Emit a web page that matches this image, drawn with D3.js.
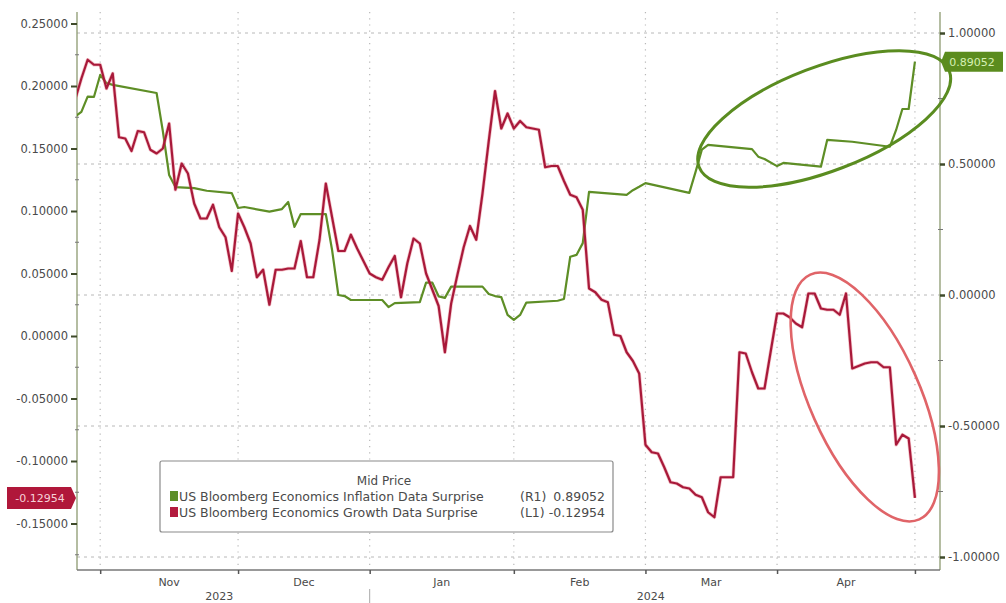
<!DOCTYPE html>
<html><head><meta charset="utf-8">
<script src="https://cdn.jsdelivr.net/npm/d3@7"></script>
<style>body{margin:0;background:#fff}svg{display:block}text{font-family:"DejaVu Sans",sans-serif}</style>
</head><body><svg id="c" width="1006" height="603"></svg>
<script>
// ---------------- data ----------------
const growthDates = ["2023-10-26","2023-10-27","2023-10-30","2023-10-31","2023-11-01","2023-11-02","2023-11-03","2023-11-06","2023-11-07","2023-11-08","2023-11-09","2023-11-10","2023-11-13","2023-11-14","2023-11-15","2023-11-16","2023-11-17","2023-11-20","2023-11-21","2023-11-22","2023-11-23","2023-11-24","2023-11-27","2023-11-28","2023-11-29","2023-11-30","2023-12-01","2023-12-04","2023-12-05","2023-12-06","2023-12-07","2023-12-08","2023-12-11","2023-12-12","2023-12-13","2023-12-14","2023-12-15","2023-12-18","2023-12-19","2023-12-20","2023-12-21","2023-12-22","2023-12-25","2023-12-26","2023-12-27","2023-12-28","2023-12-29","2024-01-01","2024-01-02","2024-01-03","2024-01-04","2024-01-05","2024-01-08","2024-01-09","2024-01-10","2024-01-11","2024-01-12","2024-01-15","2024-01-16","2024-01-17","2024-01-18","2024-01-19","2024-01-22","2024-01-23","2024-01-24","2024-01-25","2024-01-26","2024-01-29","2024-01-30","2024-01-31","2024-02-01","2024-02-02","2024-02-05","2024-02-06","2024-02-07","2024-02-08","2024-02-09","2024-02-12","2024-02-13","2024-02-14","2024-02-15","2024-02-16","2024-02-19","2024-02-20","2024-02-21","2024-02-22","2024-02-23","2024-02-26","2024-02-27","2024-02-28","2024-02-29","2024-03-01","2024-03-04","2024-03-05","2024-03-06","2024-03-07","2024-03-08","2024-03-11","2024-03-12","2024-03-13","2024-03-14","2024-03-15","2024-03-18","2024-03-19","2024-03-20","2024-03-21","2024-03-22","2024-03-25","2024-03-26","2024-03-27","2024-03-28","2024-04-01","2024-04-02","2024-04-03","2024-04-04","2024-04-05","2024-04-08","2024-04-09","2024-04-10","2024-04-11","2024-04-12","2024-04-15","2024-04-16","2024-04-17","2024-04-18","2024-04-19","2024-04-22","2024-04-23","2024-04-24","2024-04-25","2024-04-26","2024-04-29","2024-04-30","2024-05-01"];
const growthValues = [0.189,0.206,0.221,0.217,0.217,0.198,0.210,0.159,0.158,0.148,0.164,0.163,0.149,0.146,0.150,0.170,0.117,0.138,0.130,0.106,0.094,0.094,0.105,0.087,0.079,0.052,0.098,0.087,0.074,0.047,0.053,0.025,0.053,0.053,0.054,0.054,0.076,0.047,0.047,0.077,0.122,0.095,0.068,0.068,0.081,0.070,0.060,0.050,0.047,0.045,0.055,0.064,0.031,0.058,0.078,0.074,0.050,0.037,0.024,-0.013,0.026,0.049,0.071,0.088,0.077,0.114,0.156,0.196,0.166,0.178,0.166,0.172,0.167,0.166,0.165,0.135,0.136,0.136,0.124,0.113,0.111,0.101,0.038,0.035,0.029,0.027,0.001,0.000,-0.013,-0.020,-0.030,-0.087,-0.093,-0.094,-0.105,-0.117,-0.118,-0.121,-0.122,-0.127,-0.129,-0.141,-0.145,-0.113,-0.113,-0.113,-0.013,-0.014,-0.029,-0.042,-0.042,0.018,0.018,0.015,0.010,0.007,0.034,0.034,0.022,0.021,0.021,0.017,0.034,-0.026,-0.024,-0.022,-0.021,-0.021,-0.025,-0.025,-0.087,-0.079,-0.082,-0.12954];

const inflationDates = ["2023-10-26","2023-10-27","2023-10-30","2023-10-31","2023-11-01","2023-11-02","2023-11-03","2023-11-14","2023-11-15","2023-11-16","2023-11-17","2023-11-22","2023-11-24","2023-11-30","2023-12-01","2023-12-04","2023-12-08","2023-12-12","2023-12-13","2023-12-14","2023-12-15","2023-12-21","2023-12-22","2023-12-25","2023-12-26","2023-12-27","2024-01-03","2024-01-04","2024-01-05","2024-01-11","2024-01-12","2024-01-15","2024-01-16","2024-01-17","2024-01-18","2024-01-25","2024-01-26","2024-01-29","2024-01-30","2024-01-31","2024-02-01","2024-02-02","2024-02-05","2024-02-12","2024-02-13","2024-02-14","2024-02-15","2024-02-16","2024-02-19","2024-02-27","2024-02-28","2024-02-29","2024-03-01","2024-03-12","2024-03-13","2024-03-14","2024-03-15","2024-03-26","2024-03-27","2024-03-28","2024-04-01","2024-04-02","2024-04-10","2024-04-11","2024-04-17","2024-04-25","2024-04-26","2024-04-29","2024-04-30","2024-05-01"];
const inflationValues = [0.681,0.699,0.757,0.756,0.840,0.809,0.802,0.771,0.625,0.458,0.412,0.408,0.398,0.389,0.332,0.336,0.318,0.328,0.355,0.260,0.309,0.309,0.172,0.000,-0.004,-0.019,-0.019,-0.046,-0.031,-0.027,0.047,0.047,-0.005,-0.011,0.032,0.032,0.004,-0.004,-0.008,-0.076,-0.095,-0.076,-0.029,-0.022,-0.015,0.146,0.153,0.198,0.394,0.382,0.400,0.413,0.427,0.390,0.470,0.555,0.573,0.557,0.528,0.519,0.492,0.504,0.490,0.592,0.585,0.566,0.630,0.710,0.710,0.89052];

const leftTicks = [0.25,0.20,0.15,0.10,0.05,0.00,-0.05,-0.10,-0.15];
const leftMinor = [0.225,0.175,0.125,0.075,0.025,-0.025,-0.075,-0.125,-0.175];
const rightTicks = [1.0,0.5,0.0,-0.5,-1.0];
const rightMinor = [0.75,0.25,-0.25,-0.75];
const monthStarts = ["2023-11-01","2023-12-01","2024-01-01","2024-02-01","2024-03-01","2024-04-01","2024-05-01"];
const monthLabels = ["Nov","Dec","Jan","Feb","Mar","Apr"];
const yearLabels = [{label:"2023", from:"2023-10-26", to:"2024-01-01"},{label:"2024", from:"2024-01-01", to:"2024-05-08"}];
const legendTitle = "Mid Price";
const seriesNames = ["US Bloomberg Economics Inflation Data Surprise","US Bloomberg Economics Growth Data Surprise"];
const seriesAxes = ["(R1)","(L1)"];
const lastValues = ["0.89052","-0.12954"];

// ---------------- setup ----------------
const parse = d3.timeParse("%Y-%m-%d");
const origin = parse("2023-11-01");
const isWd = d => d.getDay() !== 0 && d.getDay() !== 6;
function biz(s){
  const d = parse(s);
  if (d >= origin) return d3.timeDay.range(origin, d).filter(isWd).length;
  return -d3.timeDay.range(d, origin).filter(isWd).length;
}
const L = 77, R = 940, T = 12, B = 570;
const svg = d3.select("#c");
const x = d3.scaleLinear().domain([-3.7, 134]).range([L, R]);
const yL = d3.scaleLinear().domain([-0.1872, 0.2592]).range([B, T]);
const yR = d3.scaleLinear().domain([-1.0496, 1.0802]).range([B, T]);

const gridC = "#b8b8b8", axisC = "#8d9a70", textC = "#4a4a4a";
const green = "#5e8e26", red = "#a8193a";

// grid
svg.append("g").selectAll("line").data(rightTicks).join("line")
  .attr("x1", L).attr("x2", R).attr("y1", d=>yR(d)).attr("y2", d=>yR(d))
  .attr("stroke", gridC).attr("stroke-width",1).attr("stroke-dasharray","3,4");
svg.append("g").selectAll("line").data(monthStarts).join("line")
  .attr("x1", d=>x(biz(d))).attr("x2", d=>x(biz(d))).attr("y1", T).attr("y2", B)
  .attr("stroke", gridC).attr("stroke-width",1.2).attr("stroke-dasharray","1.2,5");

// frame
svg.append("line").attr("x1",L).attr("x2",L).attr("y1",T).attr("y2",B).attr("stroke",axisC).attr("stroke-width",1.3);
svg.append("line").attr("x1",R).attr("x2",R).attr("y1",T).attr("y2",B).attr("stroke",axisC).attr("stroke-width",1.3);
svg.append("line").attr("x1",L).attr("x2",R).attr("y1",B).attr("y2",B).attr("stroke","#777").attr("stroke-width",1.5);

// left axis
const gl = svg.append("g").attr("transform",`translate(${L},0)`)
  .call(d3.axisLeft(yL).tickValues(leftTicks).tickFormat(d=>d.toFixed(5)).tickSize(6).tickPadding(3));
gl.select(".domain").remove();
gl.selectAll(".tick line").attr("stroke","#3f4a2a").attr("stroke-width",2);
gl.selectAll(".tick text").attr("fill",textC).attr("font-size","11.5px").style("font-family","DejaVu Sans");
svg.append("g").selectAll("line").data(leftMinor).join("line")
  .attr("x1",L-2).attr("x2",L+2).attr("y1",d=>yL(d)).attr("y2",d=>yL(d)).attr("stroke","#777");

// right axis
const gr = svg.append("g").attr("transform",`translate(${R},0)`)
  .call(d3.axisRight(yR).tickValues(rightTicks).tickFormat(d=>d.toFixed(5)).tickSize(5).tickPadding(3));
gr.select(".domain").remove();
gr.selectAll(".tick line").attr("stroke","#3f4a2a").attr("stroke-width",2.5);
gr.selectAll(".tick text").attr("fill",textC).attr("font-size","11.5px").style("font-family","DejaVu Sans");
svg.append("g").selectAll("line").data(rightMinor).join("line")
  .attr("x1",R-2).attr("x2",R+3).attr("y1",d=>yR(d)).attr("y2",d=>yR(d)).attr("stroke","#777");

// bottom axis
const gb = svg.append("g").attr("transform",`translate(0,${B})`)
  .call(d3.axisBottom(x).tickValues(monthStarts.map(biz)).tickFormat("").tickSize(4));
gb.select(".domain").remove();
gb.selectAll(".tick line").attr("stroke","#555").attr("stroke-width",1.5);
svg.append("g").selectAll("text").data(monthLabels).join("text")
  .attr("x",(d,i)=>(x(biz(monthStarts[i]))+x(biz(monthStarts[i+1])))/2)
  .attr("y",586).attr("text-anchor","middle").attr("font-size","11px").attr("fill",textC).text(d=>d);
svg.append("g").selectAll("text").data(yearLabels).join("text")
  .attr("x",d=>(Math.max(L,x(biz(d.from)))+Math.min(R,x(biz(d.to))))/2 - 4)
  .attr("y",600).attr("text-anchor","middle").attr("font-size","11px").attr("fill",textC).text(d=>d.label);
svg.append("line").attr("x1",x(biz(yearLabels[1].from))).attr("x2",x(biz(yearLabels[1].from)))
  .attr("y1",589).attr("y2",603).attr("stroke","#aaa");

// clip
svg.append("clipPath").attr("id","clip").append("rect").attr("x",L).attr("y",T).attr("width",R-L).attr("height",B-T);

const inflation = inflationDates.map((d,i)=>({i:biz(d), v:inflationValues[i]}));
const growth = growthDates.map((d,i)=>({i:biz(d), v:growthValues[i]}));

svg.append("path").datum(inflation).attr("clip-path","url(#clip)")
  .attr("fill","none").attr("stroke",green).attr("stroke-width",2.2).attr("stroke-linejoin","round")
  .attr("d", d3.line().x(d=>x(d.i)).y(d=>yR(d.v)));
svg.append("path").datum(growth).attr("clip-path","url(#clip)")
  .attr("fill","none").attr("stroke","#e05060").attr("stroke-opacity",0.35).attr("stroke-width",3.6).attr("stroke-linejoin","round")
  .attr("d", d3.line().x(d=>x(d.i)).y(d=>yL(d.v)));
svg.append("path").datum(growth).attr("clip-path","url(#clip)")
  .attr("fill","none").attr("stroke",red).attr("stroke-width",2.2).attr("stroke-linejoin","round")
  .attr("d", d3.line().x(d=>x(d.i)).y(d=>yL(d.v)));

// annotation ellipses (anchored to data coordinates)
const gE = {date:"2024-04-11", v:0.672, rx:134, ry:52, rot:-21};
const rE = {date:"2024-04-19", v:-0.0488, rx:134, ry:55, rot:66};
svg.append("ellipse").attr("cx",0).attr("cy",0).attr("rx",gE.rx).attr("ry",gE.ry)
  .attr("transform",`translate(${x(biz(gE.date))-3},${yR(gE.v)}) rotate(${gE.rot})`)
  .attr("fill","none").attr("stroke","#5a8c20").attr("stroke-width",3);
svg.append("ellipse").attr("cx",0).attr("cy",0).attr("rx",rE.rx).attr("ry",rE.ry)
  .attr("transform",`translate(${x(biz(rE.date))},${yL(rE.v)}) rotate(${rE.rot})`)
  .attr("fill","none").attr("stroke","#e06468").attr("stroke-width",2.6);

// last value labels
const gy = yR(inflationValues[inflationValues.length-1]);
svg.append("path").attr("d",`M${R+1},${gy} L${R+5},${gy-10} L${1003},${gy-10} L${1003},${gy+10} L${R+5},${gy+10} Z`).attr("fill","#5b8c1e");
svg.append("text").attr("x",972).attr("y",gy+4).attr("text-anchor","middle").attr("font-size","11px").attr("fill","#d6f0b4").text(lastValues[0]);
const ry = yL(growthValues[growthValues.length-1]);
svg.append("path").attr("d",`M${L-1},${ry} L${L-6},${ry-11} L${7},${ry-11} L${7},${ry+11} L${L-6},${ry+11} Z`).attr("fill","#b0173a");
svg.append("text").attr("x",40).attr("y",ry+4).attr("text-anchor","middle").attr("font-size","11px").attr("fill","#f6d0d8").text(lastValues[1]);

// legend
const lg = svg.append("g");
lg.append("rect").attr("x",160).attr("y",461).attr("width",453).attr("height",71).attr("rx",2)
  .attr("fill","#fff").attr("stroke","#8a8a8a").attr("stroke-width",1.2);
lg.append("text").attr("x",384).attr("y",485).attr("text-anchor","middle").attr("font-size","12px").attr("fill",textC).text(legendTitle);
const colors = [green, "#b31b3e"];
seriesNames.forEach((n,i)=>{
  const yy = 501 + i*16;
  lg.append("rect").attr("x",170).attr("y",yy-10).attr("width",8).attr("height",10).attr("fill",colors[i]);
  lg.append("text").attr("x",179).attr("y",yy).attr("font-size","12.5px").attr("fill",textC).text(n);
  lg.append("text").attr("x",520).attr("y",yy).attr("font-size","12.5px").attr("fill",textC).text(seriesAxes[i]);
  lg.append("text").attr("x",605).attr("y",yy).attr("text-anchor","end").attr("font-size","12.5px").attr("fill",textC).text(lastValues[i]);
});
</script></body></html>
